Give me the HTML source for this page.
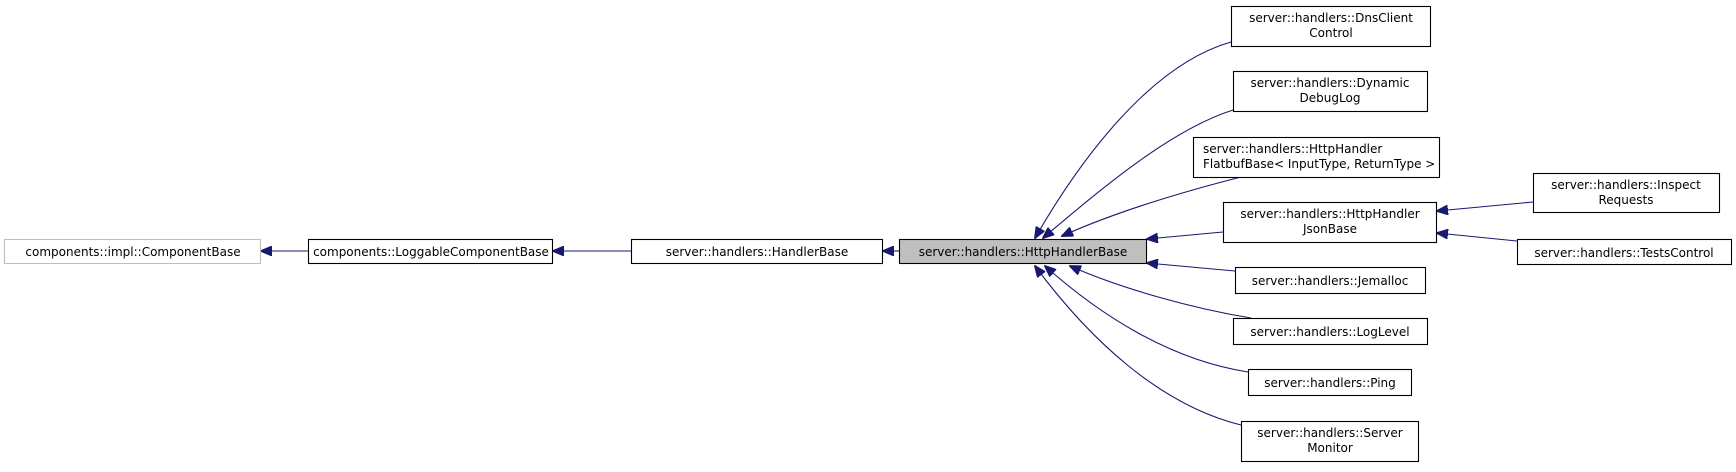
<!DOCTYPE html>
<html><head><meta charset="utf-8"><style>
html,body{margin:0;padding:0;background:#fff;}
svg text{font-family:"DejaVu Sans","Liberation Sans",sans-serif;font-size:12px;fill:#000;}
</style></head><body>
<svg width="1736" height="467" viewBox="0 0 1736 467" xmlns="http://www.w3.org/2000/svg">
<defs>
<marker id="a" markerWidth="12" markerHeight="10" refX="11" refY="5" orient="auto" markerUnits="userSpaceOnUse">
<path d="M0,0 L12,5 L0,10 Z" fill="#191970" stroke="#191970"/>
</marker>
</defs>
<g fill="none" stroke="#191970" stroke-width="1.1">
<path d="M308,251 L261,251" marker-end="url(#a)"/>
<path d="M631,251 L553,251" marker-end="url(#a)"/>
<path d="M899,251 L883,251" marker-end="url(#a)"/>
<path d="M1231,42 C1150,65 1080,160 1035,238" marker-end="url(#a)"/>
<path d="M1233,110 C1170,130 1100,190 1043,238" marker-end="url(#a)"/>
<path d="M1241,177 C1190,190 1120,210 1062,236" marker-end="url(#a)"/>
<path d="M1223,232 L1147,239" marker-end="url(#a)"/>
<path d="M1235,271 L1147,263" marker-end="url(#a)"/>
<path d="M1251,318 C1190,308 1120,288 1070,266" marker-end="url(#a)"/>
<path d="M1248,372 C1170,360 1100,315 1045,266" marker-end="url(#a)"/>
<path d="M1241,425 C1160,405 1090,340 1035,266" marker-end="url(#a)"/>
<path d="M1533,202 L1437,211" marker-end="url(#a)"/>
<path d="M1517,241 L1437,233" marker-end="url(#a)"/>
</g>
<g stroke-width="1.1">
<rect x="4.5" y="239.5" width="256" height="24" fill="#fff" stroke="#bfbfbf"/>
<rect x="308.5" y="239.5" width="244" height="24" fill="#fff" stroke="#000"/>
<rect x="631.5" y="239.5" width="251" height="24" fill="#fff" stroke="#000"/>
<rect x="899.5" y="239.5" width="247" height="24" fill="#bfbfbf" stroke="#000"/>
<rect x="1231.5" y="6.5" width="199" height="40" fill="#fff" stroke="#000"/>
<rect x="1233.5" y="71.5" width="194" height="40" fill="#fff" stroke="#000"/>
<rect x="1193.5" y="137.5" width="246" height="40" fill="#fff" stroke="#000"/>
<rect x="1223.5" y="202.5" width="213" height="40" fill="#fff" stroke="#000"/>
<rect x="1235.5" y="267.5" width="190" height="26" fill="#fff" stroke="#000"/>
<rect x="1233.5" y="318.5" width="194" height="26" fill="#fff" stroke="#000"/>
<rect x="1248.5" y="369.5" width="163" height="26" fill="#fff" stroke="#000"/>
<rect x="1241.5" y="421.5" width="177" height="40" fill="#fff" stroke="#000"/>
<rect x="1533.5" y="173.5" width="186" height="39" fill="#fff" stroke="#000"/>
<rect x="1517.5" y="239.5" width="214" height="25" fill="#fff" stroke="#000"/>
</g>
<g text-anchor="middle">
<text x="133" y="256">components::impl::ComponentBase</text>
<text x="431" y="256">components::LoggableComponentBase</text>
<text x="757" y="256">server::handlers::HandlerBase</text>
<text x="1023" y="256">server::handlers::HttpHandlerBase</text>
<text x="1331" y="22">server::handlers::DnsClient</text>
<text x="1331" y="37">Control</text>
<text x="1330" y="87">server::handlers::Dynamic</text>
<text x="1330" y="102">DebugLog</text>
<text x="1330" y="218">server::handlers::HttpHandler</text>
<text x="1330" y="233">JsonBase</text>
<text x="1330" y="285">server::handlers::Jemalloc</text>
<text x="1330" y="336">server::handlers::LogLevel</text>
<text x="1330" y="387">server::handlers::Ping</text>
<text x="1330" y="437">server::handlers::Server</text>
<text x="1330" y="452">Monitor</text>
<text x="1626" y="189">server::handlers::Inspect</text>
<text x="1626" y="204">Requests</text>
<text x="1624" y="257">server::handlers::TestsControl</text>
</g>
<text x="1203" y="153">server::handlers::HttpHandler</text>
<text x="1203" y="168">FlatbufBase&lt; InputType, ReturnType &gt;</text>
</svg>
</body></html>
